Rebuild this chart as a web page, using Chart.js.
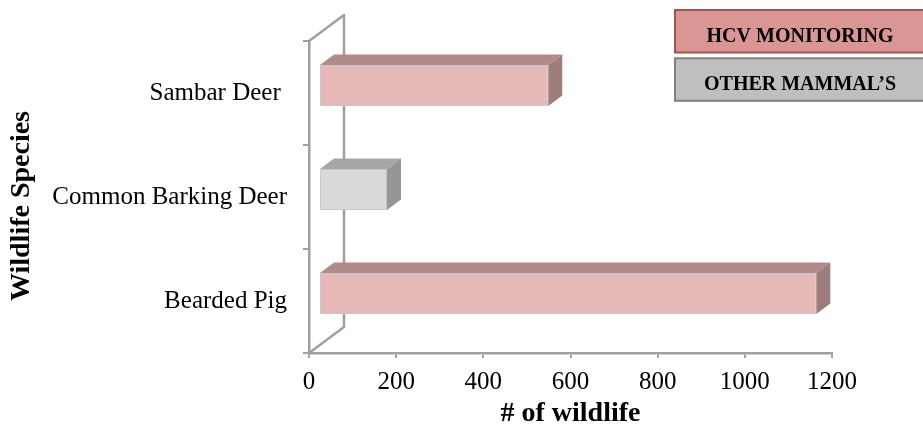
<!DOCTYPE html>
<html>
<head>
<meta charset="utf-8">
<script src="https://cdn.jsdelivr.net/npm/chart.js@4/dist/chart.umd.min.js"></script>
<style>
  html, body { margin: 0; padding: 0; background: #ffffff; }
  #wrap { position: relative; width: 923px; height: 437px; }
</style>
</head>
<body>
<div id="wrap"><canvas id="chart" width="923" height="437"></canvas></div>
<script>
// Species counts, top to bottom
const species = ['Sambar Deer ', 'Common Barking Deer', 'Bearded Pig'];
const counts = [526, 156, 1141];
const groups = ['HCV MONITORING', 'OTHER MAMMAL\u2019S', 'HCV MONITORING'];
const xTicks = [0, 200, 400, 600, 800, 1000, 1200];

// Face colours per group: front, top, side
const palette = {
  'HCV MONITORING': { front: '#E6B8B7', top: '#B08B8A', side: '#9E7E7D', box: '#DA9694', edge: '#A8504D' },
  'OTHER MAMMAL\u2019S': { front: '#D9D9D9', top: '#A6A6A6', side: '#969696', box: '#BFBFBF', edge: '#7F7F7F' }
};
const legendItems = ['HCV MONITORING', 'OTHER MAMMAL\u2019S'];

const AXIS = '#A0A0A0';
const LINE_W = 2.5;
const SERIF = '"Liberation Serif", "Times New Roman", serif';
const WALL = { dx: 35, dy: -26 };    // depth of the side wall
const FRONT = { dx: 10, dy: -7.5 };  // front plane of the bars
const DEPTH = { dx: 14, dy: -10.5 }; // bar depth

const threeD = {
  id: 'threeD',
  beforeDatasetsDraw(chart) {
    const { ctx, chartArea: a, scales: { x } } = chart;
    const x0 = x.getPixelForValue(0);
    ctx.save();
    ctx.strokeStyle = AXIS;
    ctx.lineWidth = LINE_W;
    ctx.lineJoin = 'round';
    ctx.beginPath();
    ctx.moveTo(x0, a.top);
    ctx.lineTo(x0 + WALL.dx, a.top + WALL.dy);
    ctx.lineTo(x0 + WALL.dx, a.bottom + WALL.dy);
    ctx.lineTo(x0, a.bottom);
    ctx.stroke();
    ctx.restore();
    ctx.save();
    ctx.translate(FRONT.dx, FRONT.dy);
  },
  afterDatasetsDraw(chart) {
    const { ctx } = chart;
    const meta = chart.getDatasetMeta(0);
    meta.data.forEach((bar, i) => {
      const p = bar.getProps(['x', 'y', 'base', 'height'], true);
      const c = palette[groups[i]];
      const t = p.y - p.height / 2, b = p.y + p.height / 2;
      const l = Math.min(p.base, p.x), r = Math.max(p.base, p.x);
      ctx.fillStyle = c.top;
      ctx.beginPath();
      ctx.moveTo(l, t);
      ctx.lineTo(r, t);
      ctx.lineTo(r + DEPTH.dx, t + DEPTH.dy);
      ctx.lineTo(l + DEPTH.dx, t + DEPTH.dy);
      ctx.closePath();
      ctx.fill();
      ctx.fillStyle = c.side;
      ctx.beginPath();
      ctx.moveTo(r, t);
      ctx.lineTo(r + DEPTH.dx, t + DEPTH.dy);
      ctx.lineTo(r + DEPTH.dx, b + DEPTH.dy);
      ctx.lineTo(r, b);
      ctx.closePath();
      ctx.fill();
    });
    ctx.restore();
  },
  afterDraw(chart) {
    const { ctx, chartArea: a } = chart;
    ctx.save();
    // vertical axis title
    ctx.fillStyle = '#000000';
    ctx.font = 'bold 28px ' + SERIF;
    ctx.textAlign = 'center';
    ctx.textBaseline = 'middle';
    ctx.translate(22, (a.top + a.bottom) / 2 + 9);
    ctx.rotate(-Math.PI / 2);
    ctx.fillText('Wildlife Species', 0, 0);
    ctx.restore();

    ctx.save();
    ctx.font = 'bold 20px ' + SERIF;
    ctx.textAlign = 'center';
    ctx.textBaseline = 'alphabetic';
    legendItems.forEach((name, i) => {
      const c = palette[name];
      const top = 10 + i * 48.3;
      ctx.fillStyle = c.box;
      ctx.fillRect(675, top, 252, 42.5);
      ctx.strokeStyle = c.edge;
      ctx.lineWidth = 2;
      ctx.strokeRect(675, top, 252, 42.5);
      ctx.fillStyle = '#000000';
      ctx.fillText(name, 800, top + 32);
    });
    ctx.restore();
  }
};

new Chart(document.getElementById('chart'), {
  type: 'bar',
  data: {
    labels: species,
    datasets: [{
      label: '# of wildlife',
      data: counts,
      backgroundColor: groups.map(g => palette[g].front),
      borderColor: '#C8C8C8',
      borderWidth: 1,
      borderSkipped: false,
      categoryPercentage: 1,
      barPercentage: 0.395
    }]
  },
  plugins: [threeD],
  options: {
    indexAxis: 'y',
    responsive: false,
    animation: false,
    events: [],
    layout: { padding: { left: 0, top: 41, right: 91, bottom: 0 } },
    plugins: { legend: { display: false }, tooltip: { enabled: false } },
    scales: {
      x: {
        type: 'linear',
        min: 0,
        max: 1200,
        afterFit: s => { s.height = 84; },
        afterBuildTicks: s => { s.ticks = xTicks.map(v => ({ value: v })); },
        grid: { drawOnChartArea: false, drawTicks: true, tickLength: 5, color: AXIS, lineWidth: 2 },
        border: { display: true, color: AXIS, width: LINE_W },
        ticks: { color: '#000000', font: { family: SERIF, size: 25 }, padding: 9, maxRotation: 0, callback: v => String(v) },
        title: { display: true, text: '# of wildlife', color: '#000000', font: { family: SERIF, size: 28, weight: 'bold' }, padding: { top: 0, bottom: 6 } }
      },
      y: {
        afterFit: s => { s.width = 309; },
        grid: { drawOnChartArea: false, drawTicks: true, tickLength: 6, color: AXIS, lineWidth: 2, offset: true },
        border: { display: true, color: AXIS, width: LINE_W },
        ticks: { color: '#000000', font: { family: SERIF, size: 25 }, padding: 16 },
        title: { display: false }
      }
    }
  }
});
</script>
</body>
</html>
